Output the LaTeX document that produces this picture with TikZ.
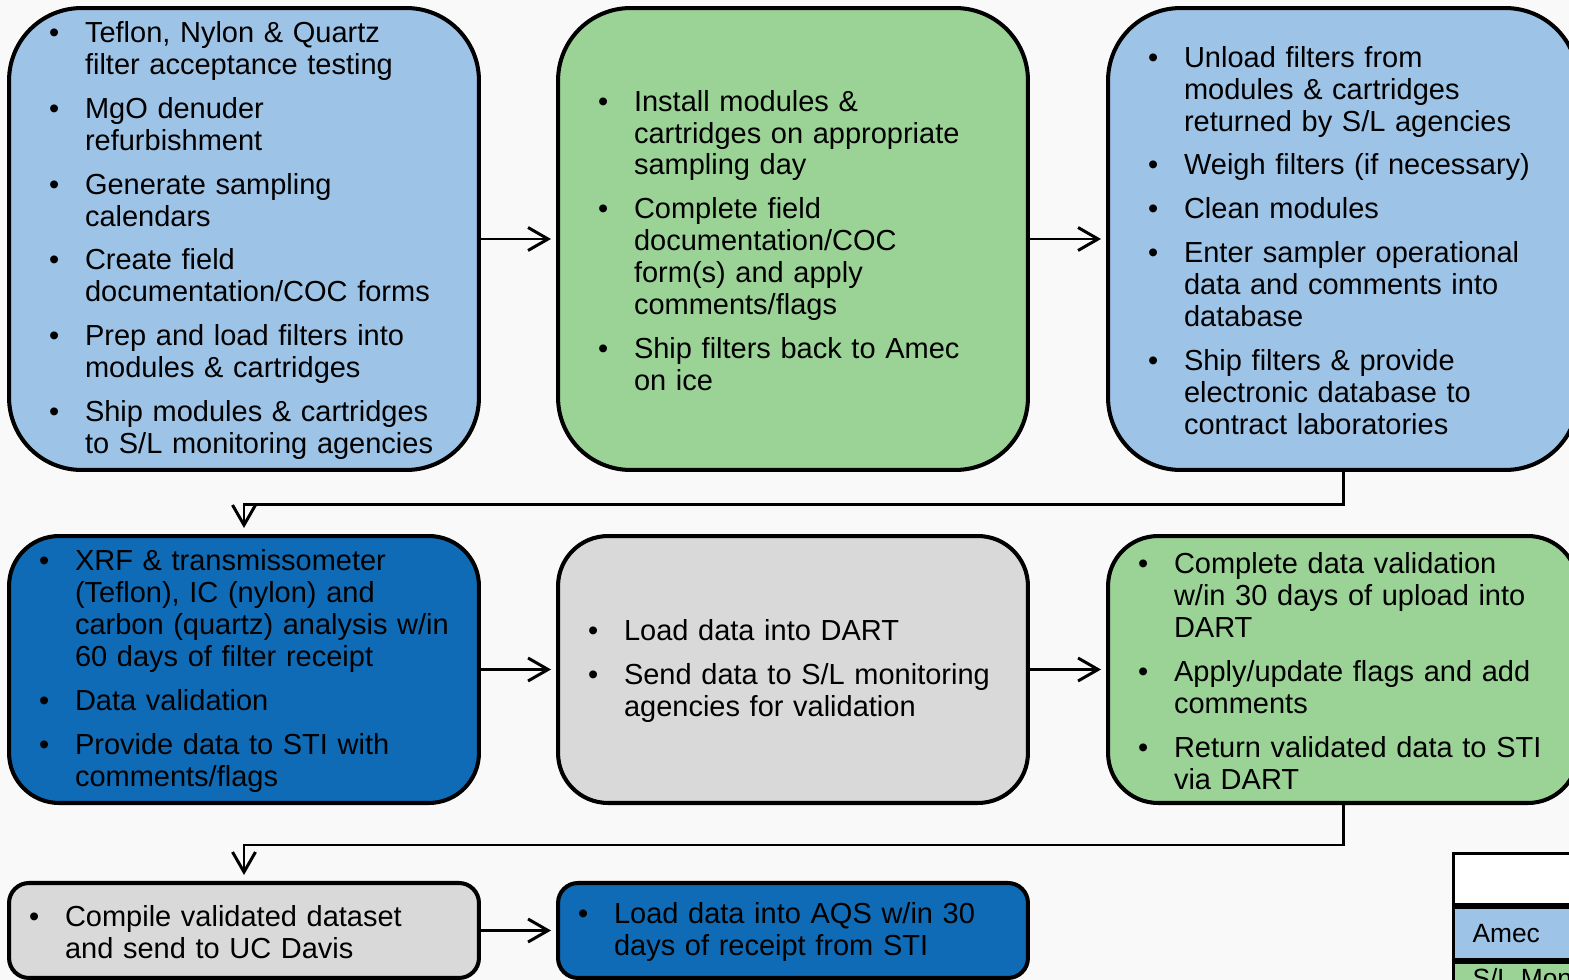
\documentclass[tikz,border=0pt]{standalone}
\usepackage{fontspec}
\setmainfont{Liberation Sans}
\usetikzlibrary{arrows.meta}

\definecolor{amecblue}{RGB}{157,195,230}
\definecolor{slgreen}{RGB}{155,211,150}
\definecolor{labblue}{RGB}{15,107,182}
\definecolor{stigray}{RGB}{217,217,217}
\definecolor{pagebg}{RGB}{249,249,249}

% bullet list; \binset is the gap from the box edge to the bullet
\def\binset{0pt}
\newcommand{\blabel}[1]{#1\hfil}
\newenvironment{blist}{%
  \begin{list}{\textbullet}{%
    \setlength{\leftmargin}{\dimexpr\binset+0.72cm\relax}%
    \setlength{\labelwidth}{0.72cm}%
    \setlength{\labelsep}{0pt}%
    \setlength{\itemsep}{6.8pt}%
    \setlength{\parsep}{0pt}%
    \setlength{\topsep}{0pt}%
    \setlength{\partopsep}{0pt}%
    \let\makelabel\blabel}\raggedright}
  {\end{list}\vskip 4.5pt\hrule height 0pt}

\tikzset{
  stage/.style={draw, line width=2.3pt, minimum width=9.4cm, text width=9.4cm, inner xsep=0pt, inner ysep=0pt},
  tall/.style={stage, rounded corners=1.45cm, minimum height=9.24cm, execute at begin node={\def\binset{0.8cm}}},
  mid/.style={stage, rounded corners=1cm, minimum height=5.34cm, execute at begin node={\def\binset{0.6cm}}},
  low/.style={stage, rounded corners=0.4cm, minimum height=1.9cm, execute at begin node={\def\binset{0.4cm}}},
  flow/.style={line width=1.7pt, -{Straight Barb[length=0.4cm,width=0.46cm]}},
  legcell/.style={draw, line width=1.7pt, anchor=north west, minimum width=6cm, minimum height=1.03cm,
    inner xsep=0.38cm, text width=5.24cm, font=\fontsize{15}{18}\selectfont}
}

\begin{document}
\begin{tikzpicture}[x=0.02cm, y=-0.02cm, font=\fontsize{16.5}{18.2}\selectfont]
    \useasboundingbox (0,0) rectangle (1569,980);
    \clip (0,0) rectangle (1569,980);
    \fill[pagebg] (0,0) rectangle (1569,980);

    % Top row: Amec, S/L agencies, Amec
    \node[tall, fill=amecblue] (prep) at (244,239) {\begin{blist}
        \item Teflon, Nylon \& Quartz\\ filter acceptance testing
        \item MgO denuder\\ refurbishment
        \item Generate sampling\\ calendars
        \item Create field\\ documentation/COC forms
        \item Prep and load filters into\\ modules \& cartridges
        \item Ship modules \& cartridges\\ to S/L monitoring agencies
    \end{blist}};
    \node[tall, fill=slgreen] (field) at (793,239) {\begin{blist}
        \item Install modules \&\\ cartridges on appropriate\\ sampling day
        \item Complete field\\ documentation/COC\\ form(s) and apply\\ comments/flags
        \item Ship filters back to Amec\\ on ice
    \end{blist}};
    \node[tall, fill=amecblue] (unload) at (1343,239) {\begin{blist}
        \item Unload filters from\\ modules \& cartridges\\ returned by S/L agencies
        \item Weigh filters (if necessary)
        \item Clean modules
        \item Enter sampler operational\\ data and comments into\\ database
        \item Ship filters \& provide\\ electronic database to\\ contract laboratories
    \end{blist}};

    % Middle row: labs, STI, S/L agencies
    \node[mid, fill=labblue] (lab) at (244,669.5) {\begin{blist}
        \item XRF \& transmissometer\\ (Teflon), IC (nylon) and\\ carbon (quartz) analysis w/in\\ 60 days of filter receipt
        \item Data validation
        \item Provide data to STI with\\ comments/flags
    \end{blist}};
    \node[mid, fill=stigray] (dart) at (793,669.5) {\begin{blist}
        \item Load data into DART
        \item Send data to S/L monitoring\\ agencies for validation
    \end{blist}};
    \node[mid, fill=slgreen] (valid) at (1343,669.5) {\begin{blist}
        \item Complete data validation\\ w/in 30 days of upload into\\ DART
        \item Apply/update flags and add\\ comments
        \item Return validated data to STI\\ via DART
    \end{blist}};

    % Bottom row
    \node[low, fill=stigray] (compile) at (244,930.5) {\begin{blist}
        \item Compile validated dataset\\ and send to UC Davis
    \end{blist}};
    \node[low, fill=labblue] (aqs) at (793,930.5) {\begin{blist}
        \item Load data into AQS w/in 30\\ days of receipt from STI
    \end{blist}};

    % Connectors
    \draw[flow, shorten >=0.1cm] (prep.east) -- (field.west);
    \draw[flow, shorten >=0.1cm] (field.east) -- (unload.west);
    \draw[flow, shorten >=0.12cm] (unload.south) -- ++(0,33) -| (lab.north);
    \draw[flow, shorten >=0.1cm] (lab.east) -- (dart.west);
    \draw[flow, shorten >=0.1cm] (dart.east) -- (valid.west);
    \draw[flow, shorten >=0.12cm] (valid.south) -- ++(0,40) -| (compile.north);
    \draw[flow, shorten >=0.1cm] (compile.east) -- (aqs.west);

    % Legend
    \node[legcell, fill=white] (leghead) at (1452,852) {};
    \node[legcell, fill=amecblue] (legamec) at (leghead.south west) {Amec};
    \node[legcell, fill=slgreen] (legsl) at (legamec.south west) {S/L Monitoring Agencies};
\end{tikzpicture}
\end{document}
